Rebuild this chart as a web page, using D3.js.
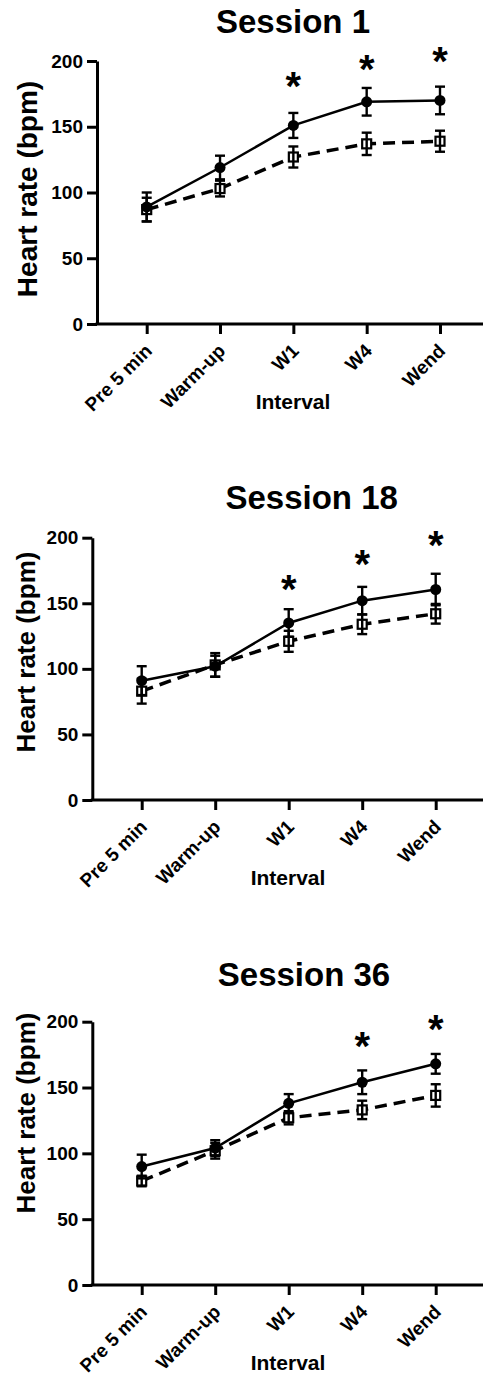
<!DOCTYPE html>
<html>
<head>
<meta charset="utf-8">
<script src="https://cdn.jsdelivr.net/npm/d3@7"></script>
<style>
  body { margin: 0; background: #fff; }
  svg { display: block; font-family: "Liberation Sans", Arial, sans-serif; font-weight: bold; }
</style>
</head>
<body>
<div id="chart"></div>
<script>
const intervals = ["Pre 5 min", "Warm-up", "W1", "W4", "Wend"];
const yTicks = [0, 50, 100, 150, 200];
const titles = ["Session 1", "Session 18", "Session 36"];

// filled circles (solid line) and open squares (dashed line), mean and SD
const s1Solid = [89, 119, 151, 169, 170];
const s1SolidSd = [11, 9, 9.5, 10.5, 10.5];
const s1Open = [87, 103, 127, 137, 139];
const s1OpenSd = [9, 6, 8, 8.5, 8];
const s1Stars = ["W1", "W4", "Wend"];
const s1StarY = [188, 201, 207];

const s18Solid = [91, 102, 135, 152, 160.5];
const s18SolidSd = [11, 8, 10.5, 10.5, 12];
const s18Open = [83, 103, 121, 134, 142];
const s18OpenSd = [9.5, 9, 8, 7.5, 7.5];
const s18Stars = ["W1", "W4", "Wend"];
const s18StarY = [168, 187, 201];

const s36Solid = [90, 104, 138, 154, 168];
const s36SolidSd = [9, 6, 7, 9, 7.5];
const s36Open = [79, 102, 127, 133, 144];
const s36OpenSd = [4, 6, 5, 7, 8.5];
const s36Stars = ["W4", "Wend"];
const s36StarY = [188, 201];

const panels = [
    { title: titles[0], solid: s1Solid, solidSd: s1SolidSd, open: s1Open, openSd: s1OpenSd, stars: s1Stars, starY: s1StarY,
      axisX: 97, top: 61, bottom: 324, x0: 146.7, x1: 440, titleX: 293, titleY: 33, ylabX: 37, ylabY: 189, ylabSize: 28, labX: 293 },
    { title: titles[1], solid: s18Solid, solidSd: s18SolidSd, open: s18Open, openSd: s18OpenSd, stars: s18Stars, starY: s18StarY,
      axisX: 92.3, top: 537.7, bottom: 800, x0: 141.7, x1: 435.7, titleX: 311.7, titleY: 509, ylabX: 35, ylabY: 652, ylabSize: 26, labX: 288 },
    { title: titles[2], solid: s36Solid, solidSd: s36SolidSd, open: s36Open, openSd: s36OpenSd, stars: s36Stars, starY: s36StarY,
      axisX: 92.3, top: 1021.7, bottom: 1285, x0: 141.7, x1: 435.7, titleX: 304, titleY: 986, ylabX: 35, ylabY: 1113, ylabSize: 26, labX: 288 }
];

const W = 483, H = 1377;

const svg = d3.select("#chart")
    .append("svg")
    .attr("width", W)
    .attr("height", H)
    .attr("viewBox", `0 0 ${W} ${H}`);

panels.forEach(p => drawPanel(p));

function drawPanel(p) {
    const g = svg.append("g");

    const x = d3.scalePoint()
        .domain(intervals)
        .range([p.x0, p.x1]);

    const y = d3.scaleLinear()
        .domain([0, 200])
        .range([p.bottom, p.top]);

    // y axis
    const yAxis = g.append("g")
        .attr("transform", `translate(${p.axisX},0)`)
        .call(d3.axisLeft(y).tickValues(yTicks).tickSize(10).tickSizeOuter(0).tickPadding(4));
    yAxis.select(".domain").attr("stroke-width", 3);
    yAxis.selectAll(".tick line").attr("stroke-width", 3);
    yAxis.selectAll(".tick text")
        .attr("font-size", 19)
        .attr("font-weight", "bold")
        .attr("font-family", "Liberation Sans, Arial, sans-serif")
        .attr("fill", "#000");

    // x axis
    const xAxis = g.append("g")
        .attr("transform", `translate(0,${p.bottom})`)
        .call(d3.axisBottom(x).tickSize(10).tickSizeOuter(0));
    xAxis.select(".domain").remove();
    xAxis.append("line")
        .attr("x1", p.axisX - 1.5)
        .attr("x2", W + 10)
        .attr("stroke", "#000")
        .attr("stroke-width", 3);
    xAxis.selectAll(".tick line").attr("stroke-width", 3);
    xAxis.selectAll(".tick text")
        .attr("font-size", 19)
        .attr("font-weight", "bold")
        .attr("font-family", "Liberation Sans, Arial, sans-serif")
        .attr("fill", "#000")
        .attr("text-anchor", "end")
        .attr("x", 0)
        .attr("y", 0)
        .attr("dy", 0)
        .attr("transform", "translate(6,28) rotate(-45)");

    // titles
    g.append("text")
        .attr("x", p.titleX)
        .attr("y", p.titleY)
        .attr("text-anchor", "middle")
        .attr("font-size", 33)
        .text(p.title);

    g.append("text")
        .attr("transform", `translate(${p.ylabX},${p.ylabY}) rotate(-90)`)
        .attr("text-anchor", "middle")
        .attr("font-size", p.ylabSize)
        .text("Heart rate (bpm)");

    g.append("text")
        .attr("x", p.labX)
        .attr("y", p.bottom + 85)
        .attr("text-anchor", "middle")
        .attr("font-size", 21)
        .text("Interval");

    const line = d3.line()
        .x((d, i) => x(intervals[i]))
        .y(d => y(d));

    // open squares, dashed
    g.append("path")
        .datum(p.open)
        .attr("d", line)
        .attr("fill", "none")
        .attr("stroke", "#000")
        .attr("stroke-width", 3.5)
        .attr("stroke-dasharray", "12,7");

    g.selectAll(".sq")
        .data(p.open)
        .enter().append("rect")
        .attr("class", "sq")
        .attr("x", (d, i) => x(intervals[i]) - 4.5)
        .attr("y", d => y(d) - 4.5)
        .attr("width", 9)
        .attr("height", 9)
        .attr("fill", "#fff")
        .attr("stroke", "#000")
        .attr("stroke-width", 2.2);

    drawErrors(g, x, y, p.open, p.openSd);

    // filled circles, solid
    g.append("path")
        .datum(p.solid)
        .attr("d", line)
        .attr("fill", "none")
        .attr("stroke", "#000")
        .attr("stroke-width", 2.5);

    drawErrors(g, x, y, p.solid, p.solidSd);

    g.selectAll(".dot")
        .data(p.solid)
        .enter().append("circle")
        .attr("class", "dot")
        .attr("cx", (d, i) => x(intervals[i]))
        .attr("cy", d => y(d))
        .attr("r", 5.5)
        .attr("fill", "#000");

    // significance marks
    g.selectAll(".star")
        .data(p.stars)
        .enter().append("text")
        .attr("class", "star")
        .attr("x", d => x(d))
        .attr("y", (d, i) => y(p.starY[i]) + 23)
        .attr("text-anchor", "middle")
        .attr("font-size", 40)
        .text("*");
}

function drawErrors(g, x, y, means, sds) {
    const eb = g.append("g")
        .attr("stroke", "#000")
        .attr("stroke-width", 2.4);
    means.forEach((m, i) => {
        const cx = x(intervals[i]);
        const lo = y(m - sds[i]);
        const hi = y(m + sds[i]);
        eb.append("line").attr("x1", cx).attr("x2", cx).attr("y1", lo).attr("y2", hi);
        eb.append("line").attr("x1", cx - 5).attr("x2", cx + 5).attr("y1", lo).attr("y2", lo);
        eb.append("line").attr("x1", cx - 5).attr("x2", cx + 5).attr("y1", hi).attr("y2", hi);
    });
}
</script>
</body>
</html>
